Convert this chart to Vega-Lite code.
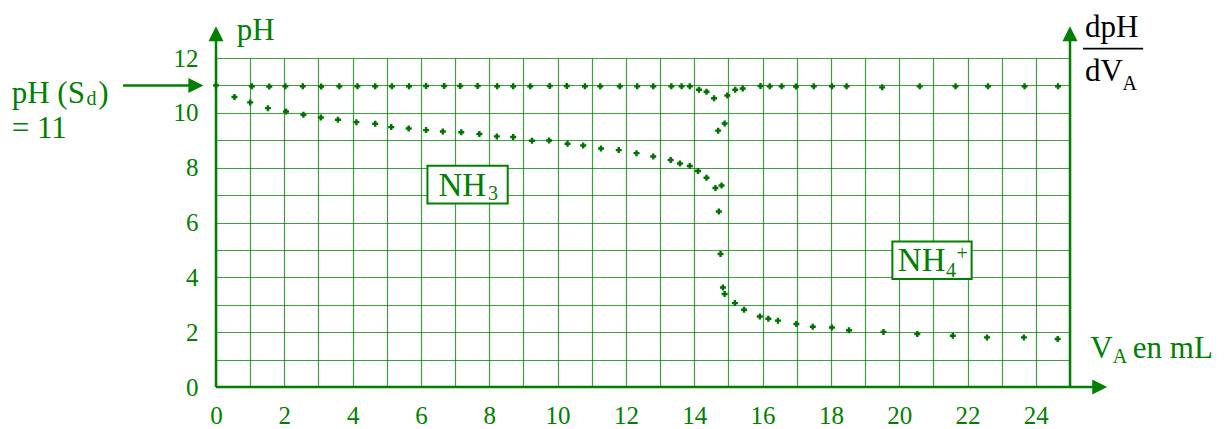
{
  "$schema": "https://vega.github.io/schema/vega-lite/v6.json",
  "autosize": {"type": "none"},
  "width": 854,
  "height": 329,
  "padding": {"left": 216, "top": 58, "right": 155, "bottom": 42},
  "background": "white",
  "config": {"view": {"stroke": null}},
  "datasets": {
    "mesures": [
      {"x": 0, "y": 11.0, "courbe": "pH"},
      {"x": 0.54, "y": 10.58, "courbe": "pH"},
      {"x": 1.0, "y": 10.38, "courbe": "pH"},
      {"x": 1.52, "y": 10.17, "courbe": "pH"},
      {"x": 2.05, "y": 10.05, "courbe": "pH"},
      {"x": 2.56, "y": 9.93, "courbe": "pH"},
      {"x": 3.07, "y": 9.83, "courbe": "pH"},
      {"x": 3.57, "y": 9.75, "courbe": "pH"},
      {"x": 4.11, "y": 9.66, "courbe": "pH"},
      {"x": 4.66, "y": 9.6, "courbe": "pH"},
      {"x": 5.13, "y": 9.48, "courbe": "pH"},
      {"x": 5.64, "y": 9.43, "courbe": "pH"},
      {"x": 6.15, "y": 9.37, "courbe": "pH"},
      {"x": 6.64, "y": 9.32, "courbe": "pH"},
      {"x": 7.18, "y": 9.29, "courbe": "pH"},
      {"x": 7.71, "y": 9.23, "courbe": "pH"},
      {"x": 8.22, "y": 9.14, "courbe": "pH"},
      {"x": 8.7, "y": 9.12, "courbe": "pH"},
      {"x": 9.25, "y": 8.98, "courbe": "pH"},
      {"x": 9.75, "y": 8.99, "courbe": "pH"},
      {"x": 10.29, "y": 8.87, "courbe": "pH"},
      {"x": 10.75, "y": 8.81, "courbe": "pH"},
      {"x": 11.27, "y": 8.7, "courbe": "pH"},
      {"x": 11.79, "y": 8.64, "courbe": "pH"},
      {"x": 12.31, "y": 8.53, "courbe": "pH"},
      {"x": 12.8, "y": 8.41, "courbe": "pH"},
      {"x": 13.31, "y": 8.28, "courbe": "pH"},
      {"x": 13.58, "y": 8.15, "courbe": "pH"},
      {"x": 13.87, "y": 8.06, "courbe": "pH"},
      {"x": 14.11, "y": 7.88, "courbe": "pH"},
      {"x": 14.36, "y": 7.63, "courbe": "pH"},
      {"x": 14.62, "y": 7.26, "courbe": "pH"},
      {"x": 14.8, "y": 7.35, "courbe": "pH"},
      {"x": 14.72, "y": 6.4, "courbe": "pH"},
      {"x": 14.77, "y": 4.85, "courbe": "pH"},
      {"x": 14.84, "y": 3.63, "courbe": "pH"},
      {"x": 14.89, "y": 3.39, "courbe": "pH"},
      {"x": 15.19, "y": 3.06, "courbe": "pH"},
      {"x": 15.46, "y": 2.82, "courbe": "pH"},
      {"x": 15.92, "y": 2.57, "courbe": "pH"},
      {"x": 16.17, "y": 2.49, "courbe": "pH"},
      {"x": 16.45, "y": 2.42, "courbe": "pH"},
      {"x": 16.99, "y": 2.3, "courbe": "pH"},
      {"x": 17.47, "y": 2.2, "courbe": "pH"},
      {"x": 18.03, "y": 2.17, "courbe": "pH"},
      {"x": 18.53, "y": 2.07, "courbe": "pH"},
      {"x": 19.54, "y": 2.01, "courbe": "pH"},
      {"x": 20.53, "y": 1.93, "courbe": "pH"},
      {"x": 21.57, "y": 1.87, "courbe": "pH"},
      {"x": 22.57, "y": 1.81, "courbe": "pH"},
      {"x": 23.65, "y": 1.81, "courbe": "pH"},
      {"x": 24.64, "y": 1.75, "courbe": "pH"},
      {"x": 1.05, "y": 10.97, "courbe": "dpH/dVA"},
      {"x": 1.56, "y": 10.96, "courbe": "dpH/dVA"},
      {"x": 2.03, "y": 10.97, "courbe": "dpH/dVA"},
      {"x": 2.54, "y": 10.97, "courbe": "dpH/dVA"},
      {"x": 3.08, "y": 10.96, "courbe": "dpH/dVA"},
      {"x": 3.61, "y": 10.97, "courbe": "dpH/dVA"},
      {"x": 4.14, "y": 10.97, "courbe": "dpH/dVA"},
      {"x": 4.66, "y": 10.97, "courbe": "dpH/dVA"},
      {"x": 5.15, "y": 10.97, "courbe": "dpH/dVA"},
      {"x": 5.65, "y": 10.97, "courbe": "dpH/dVA"},
      {"x": 6.15, "y": 10.98, "courbe": "dpH/dVA"},
      {"x": 6.68, "y": 10.98, "courbe": "dpH/dVA"},
      {"x": 7.15, "y": 10.98, "courbe": "dpH/dVA"},
      {"x": 7.66, "y": 10.98, "courbe": "dpH/dVA"},
      {"x": 8.23, "y": 10.97, "courbe": "dpH/dVA"},
      {"x": 8.7, "y": 10.97, "courbe": "dpH/dVA"},
      {"x": 9.2, "y": 10.97, "courbe": "dpH/dVA"},
      {"x": 9.77, "y": 10.98, "courbe": "dpH/dVA"},
      {"x": 10.27, "y": 10.98, "courbe": "dpH/dVA"},
      {"x": 10.8, "y": 10.97, "courbe": "dpH/dVA"},
      {"x": 11.25, "y": 10.97, "courbe": "dpH/dVA"},
      {"x": 11.82, "y": 10.97, "courbe": "dpH/dVA"},
      {"x": 12.33, "y": 10.97, "courbe": "dpH/dVA"},
      {"x": 12.8, "y": 10.97, "courbe": "dpH/dVA"},
      {"x": 13.33, "y": 10.97, "courbe": "dpH/dVA"},
      {"x": 13.63, "y": 10.97, "courbe": "dpH/dVA"},
      {"x": 13.87, "y": 10.97, "courbe": "dpH/dVA"},
      {"x": 14.14, "y": 10.84, "courbe": "dpH/dVA"},
      {"x": 14.36, "y": 10.77, "courbe": "dpH/dVA"},
      {"x": 14.58, "y": 10.53, "courbe": "dpH/dVA"},
      {"x": 14.7, "y": 9.35, "courbe": "dpH/dVA"},
      {"x": 14.89, "y": 9.61, "courbe": "dpH/dVA"},
      {"x": 14.97, "y": 10.63, "courbe": "dpH/dVA"},
      {"x": 15.2, "y": 10.84, "courbe": "dpH/dVA"},
      {"x": 15.42, "y": 10.89, "courbe": "dpH/dVA"},
      {"x": 15.94, "y": 10.98, "courbe": "dpH/dVA"},
      {"x": 16.21, "y": 10.97, "courbe": "dpH/dVA"},
      {"x": 16.56, "y": 10.97, "courbe": "dpH/dVA"},
      {"x": 16.98, "y": 10.96, "courbe": "dpH/dVA"},
      {"x": 17.5, "y": 10.97, "courbe": "dpH/dVA"},
      {"x": 18.03, "y": 10.97, "courbe": "dpH/dVA"},
      {"x": 18.46, "y": 10.97, "courbe": "dpH/dVA"},
      {"x": 19.5, "y": 10.93, "courbe": "dpH/dVA"},
      {"x": 20.6, "y": 10.97, "courbe": "dpH/dVA"},
      {"x": 21.65, "y": 10.97, "courbe": "dpH/dVA"},
      {"x": 22.6, "y": 10.97, "courbe": "dpH/dVA"},
      {"x": 23.67, "y": 10.97, "courbe": "dpH/dVA"},
      {"x": 24.65, "y": 10.97, "courbe": "dpH/dVA"}
    ],
    "axes": [
      {"x": 0, "y": 0, "x2": 0, "y2": 12.88},
      {"x": 0, "y": 0, "x2": 25.87, "y2": 0},
      {"x": 25, "y": 0, "x2": 25, "y2": 12.88},
      {"x": -2.72, "y": 11, "x2": -0.59, "y2": 11}
    ],
    "fleches_haut": [
      {"x": 0, "y": 12.88},
      {"x": 25, "y": 12.88}
    ],
    "fleches_droite": [
      {"x": 25.87, "y": 0},
      {"x": -0.59, "y": 11}
    ],
    "trait_fraction": [
      {"x": 25.38, "y": 12.34, "x2": 27.14, "y2": 12.34}
    ],
    "cadres": [
      {"x": 6.19, "y": 8.07, "x2": 8.54, "y2": 6.69},
      {"x": 19.8, "y": 5.31, "x2": 22.12, "y2": 3.94}
    ],
    "textes": [
      {"x": 0.61, "y": 12.67, "t": "pH"},
      {"x": -5.98, "y": 10.37, "t": "pH (S"},
      {"x": -3.45, "y": 10.37, "t": ")"},
      {"x": -5.98, "y": 9.09, "t": "= 11"},
      {"x": 25.59, "y": 1.06, "t": "V"},
      {"x": 26.84, "y": 1.06, "t": "en mL"}
    ],
    "especes": [
      {"x": 6.51, "y": 6.95, "t": "NH"},
      {"x": 19.96, "y": 4.24, "t": "NH"}
    ],
    "indices": [
      {"x": -3.79, "y": 10.3, "t": "d"},
      {"x": 26.25, "y": 0.875, "t": "A"},
      {"x": 7.96, "y": 6.81, "t": "3"},
      {"x": 21.37, "y": 4.03, "t": "4"},
      {"x": 21.68, "y": 4.62, "t": "+"}
    ],
    "textes_noirs": [
      {"x": 25.44, "y": 12.77, "t": "dpH"},
      {"x": 25.44, "y": 11.15, "t": "dV"}
    ],
    "indices_noirs": [
      {"x": 26.54, "y": 10.84, "t": "A"}
    ]
  },
  "encoding": {
    "x": {
      "field": "x",
      "type": "quantitative",
      "scale": {"domain": [0, 25], "nice": false, "zero": false},
      "axis": {
        "title": null,
        "values": [0,1,2,3,4,5,6,7,8,9,10,11,12,13,14,15,16,17,18,19,20,21,22,23,24,25],
        "labelExpr": "datum.value % 2 === 0 && datum.value < 25 ? datum.label : ''",
        "domain": false,
        "ticks": false,
        "tickSize": 0,
        "grid": true,
        "gridColor": "#008000",
        "gridOpacity": 0.75,
        "gridWidth": 1.2,
        "labelFont": "Liberation Serif, Times New Roman, serif",
        "labelFontSize": 25,
        "labelColor": "#008000",
        "labelPadding": 16,
        "labelOverlap": false,
        "labelFlush": false
      }
    },
    "y": {
      "field": "y",
      "type": "quantitative",
      "scale": {"domain": [0, 12], "nice": false, "zero": false},
      "axis": {
        "title": null,
        "values": [0,1,2,3,4,5,6,7,8,9,10,11,12],
        "labelExpr": "datum.value % 2 === 0 ? datum.label : ''",
        "domain": false,
        "ticks": false,
        "tickSize": 0,
        "grid": true,
        "gridColor": "#008000",
        "gridOpacity": 0.75,
        "gridWidth": 1.2,
        "labelFont": "Liberation Serif, Times New Roman, serif",
        "labelFontSize": 25,
        "labelColor": "#008000",
        "labelPadding": 18,
        "labelOverlap": false,
        "labelFlush": false
      }
    }
  },
  "layer": [
    {
      "data": {"name": "cadres"},
      "mark": {"type": "rect", "fill": "white", "stroke": "#008000", "strokeWidth": 2},
      "encoding": {"x2": {"field": "x2"}, "y2": {"field": "y2"}}
    },
    {
      "data": {"name": "axes"},
      "mark": {"type": "rule", "color": "#008000", "strokeWidth": 2.5},
      "encoding": {"x2": {"field": "x2"}, "y2": {"field": "y2"}}
    },
    {
      "data": {"name": "trait_fraction"},
      "mark": {"type": "rule", "color": "#000000", "strokeWidth": 1.8},
      "encoding": {"x2": {"field": "x2"}, "y2": {"field": "y2"}}
    },
    {
      "data": {"name": "fleches_haut"},
      "mark": {"type": "point", "shape": "M0,-1L1,1L-1,1Z", "filled": true, "size": 225, "color": "#008000", "opacity": 1}
    },
    {
      "data": {"name": "fleches_droite"},
      "mark": {"type": "point", "shape": "M1,0L-1,-1L-1,1Z", "filled": true, "size": 225, "color": "#008000", "opacity": 1}
    },
    {
      "data": {"name": "mesures"},
      "mark": {"type": "point", "shape": "cross", "filled": true, "size": 36, "color": "#007000", "opacity": 1}
    },
    {
      "data": {"name": "textes"},
      "mark": {"type": "text", "align": "left", "baseline": "alphabetic", "font": "Liberation Serif, Times New Roman, serif", "fontSize": 31, "color": "#008000"},
      "encoding": {"text": {"field": "t"}}
    },
    {
      "data": {"name": "especes"},
      "mark": {"type": "text", "align": "left", "baseline": "alphabetic", "font": "Liberation Serif, Times New Roman, serif", "fontSize": 33, "color": "#008000"},
      "encoding": {"text": {"field": "t"}}
    },
    {
      "data": {"name": "indices"},
      "mark": {"type": "text", "align": "left", "baseline": "alphabetic", "font": "Liberation Serif, Times New Roman, serif", "fontSize": 20, "color": "#008000"},
      "encoding": {"text": {"field": "t"}}
    },
    {
      "data": {"name": "textes_noirs"},
      "mark": {"type": "text", "align": "left", "baseline": "alphabetic", "font": "Liberation Serif, Times New Roman, serif", "fontSize": 31, "color": "#000000"},
      "encoding": {"text": {"field": "t"}}
    },
    {
      "data": {"name": "indices_noirs"},
      "mark": {"type": "text", "align": "left", "baseline": "alphabetic", "font": "Liberation Serif, Times New Roman, serif", "fontSize": 20, "color": "#000000"},
      "encoding": {"text": {"field": "t"}}
    }
  ]
}
